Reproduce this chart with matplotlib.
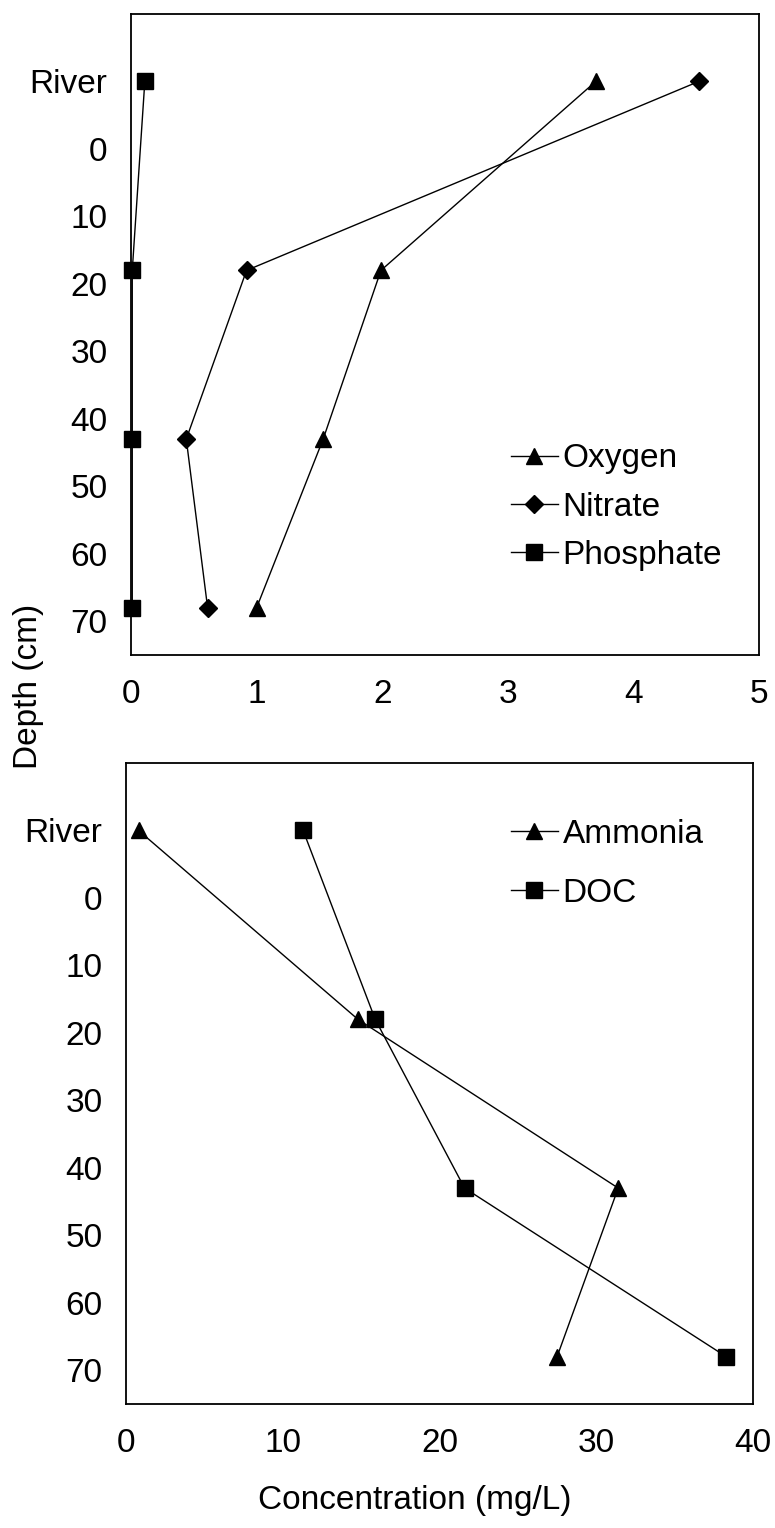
import numpy as np
import matplotlib
matplotlib.use('Agg')
import matplotlib.pyplot as plt

plt.rcParams['font.family'] = ['Liberation Sans', 'DejaVu Sans']
plt.rcParams['font.size'] = 24

# depth of each sample, -10 stands for the river water
depth = [-10, 18, 43, 68]
ytick_vals = [-10, 0, 10, 20, 30, 40, 50, 60, 70]
ytick_labels = ['River', '0', '10', '20', '30', '40', '50', '60', '70']

# top panel (mg/L)
oxygen = [3.70, 1.99, 1.53, 1.00]
nitrate = [4.52, 0.92, 0.44, 0.61]
phosphate = [0.11, 0.01, 0.01, 0.01]

# bottom panel (mg/L)
ammonia = [0.8, 14.8, 31.4, 27.5]
doc = [11.3, 15.9, 21.6, 38.3]

W, H = 775, 1528
fig = plt.figure(figsize=(W / 100, H / 100), dpi=100)

ax1 = fig.add_axes([131 / W, 1 - 655 / H, 628 / W, 641 / H])
ax2 = fig.add_axes([126 / W, 1 - 1404 / H, 627 / W, 641 / H])

lw = 1.0
ax1.plot(oxygen, depth, color='k', lw=lw, marker='^', ms=11.5, label='Oxygen')
ax1.plot(nitrate, depth, color='k', lw=lw, marker='D', ms=9.5, label='Nitrate')
ax1.plot(phosphate, depth, color='k', lw=lw, marker='s', ms=11.5, label='Phosphate')
ax1.set_xlim(0, 5)
ax1.set_xticks(range(0, 6))

ax2.plot(ammonia, depth, color='k', lw=lw, marker='^', ms=11.5, label='Ammonia')
ax2.plot(doc, depth, color='k', lw=lw, marker='s', ms=11.5, label='DOC')
ax2.set_xlim(0, 40)
ax2.set_xticks(range(0, 41, 10))

for ax in (ax1, ax2):
    ax.set_ylim(75, -20)
    ax.set_yticks(ytick_vals)
    ax.set_yticklabels(ytick_labels)
    ax.tick_params(length=0, pad=17, labelsize=24)
    for s in ax.spines.values():
        s.set_linewidth(1.3)
    for m in ax.lines:
        m.set_clip_on(False)

ax1.legend(loc='center left', bbox_to_anchor=(511 / W, 1 - 507 / H),
           bbox_transform=fig.transFigure, frameon=False, borderpad=0,
           borderaxespad=0, handlelength=1.4, handletextpad=0.15,
           labelspacing=0.52, fontsize=24)
ax2.legend(loc='center left', bbox_to_anchor=(511 / W, 1 - 864 / H),
           bbox_transform=fig.transFigure, frameon=False, borderpad=0,
           borderaxespad=0, handlelength=1.4, handletextpad=0.15,
           labelspacing=0.84, fontsize=24)

fig.text(28 / W, 1 - 686 / H, 'Depth (cm)', rotation=90, ha='center', va='center', fontsize=24)
fig.text(415 / W, 1 - 1500 / H, 'Concentration (mg/L)', ha='center', va='center', fontsize=24)

fig.savefig('out.png', dpi=100)
